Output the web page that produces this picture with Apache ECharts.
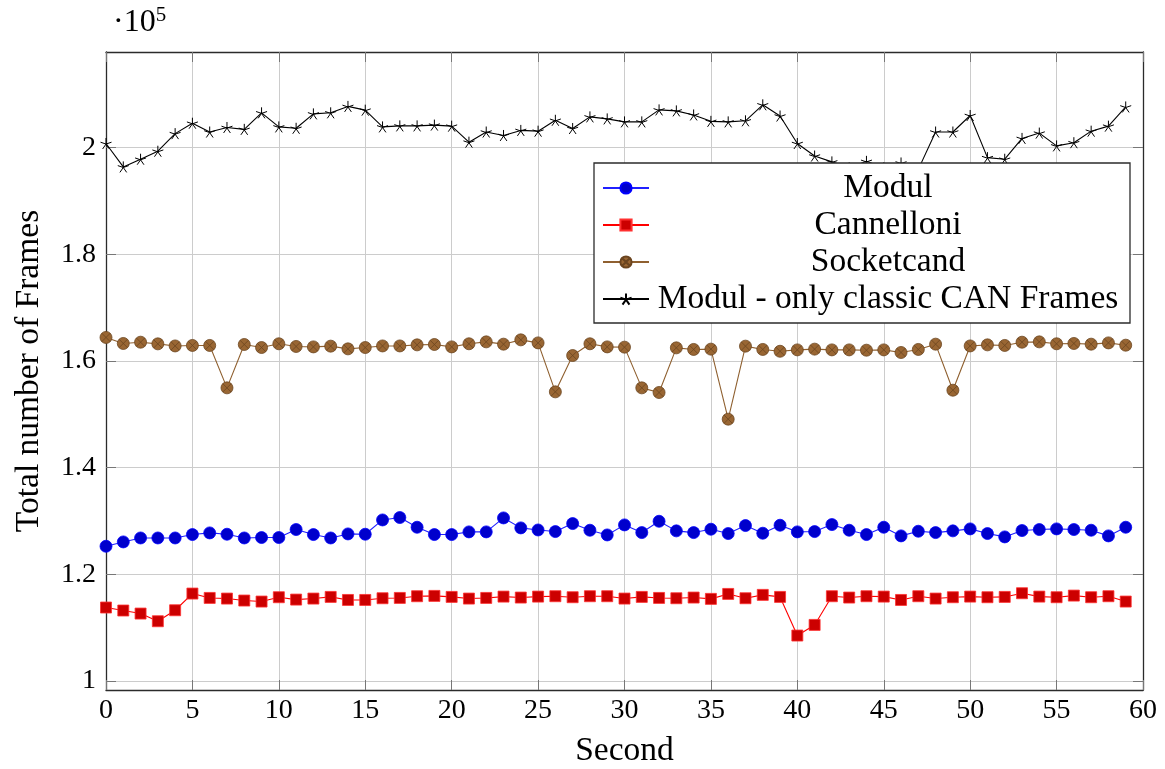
<!DOCTYPE html>
<html>
<head>
<meta charset="utf-8">
<script src="https://cdn.jsdelivr.net/npm/echarts@6/dist/echarts.min.js"></script>
<style>
  html, body { margin: 0; padding: 0; background: #fff; }
  #chart { width: 1165px; height: 769px; }
</style>
</head>
<body>
<div id="chart"></div>
<script>
// Seconds of the measurement
const seconds = [0,1,2,3,4,5,6,7,8,9,10,11,12,13,14,15,16,17,18,19,
  20,21,22,23,24,25,26,27,28,29,30,31,32,33,34,35,36,37,38,39,
  40,41,42,43,44,45,46,47,48,49,50,51,52,53,54,55,56,57,58,59];

// Total number of frames per second
const modul = [125250,126060,126800,126800,126800,127440,127750,127500,126800,126880,
  126880,128380,127440,126800,127560,127500,130180,130630,128810,127440,
  127440,127940,127940,130560,128690,128300,128000,129500,128250,127370,
  129250,127810,129930,128130,127810,128440,127630,129130,127690,129190,
  127940,128000,129310,128250,127440,128810,127190,128060,127810,128130,
  128500,127630,127000,128190,128380,128500,128380,128250,127190,128810];

const cannelloni = [113760,113200,112630,111190,113250,116380,115560,115440,115070,114880,
  115690,115250,115440,115750,115180,115180,115500,115560,115880,115940,
  115750,115440,115560,115810,115630,115810,115880,115690,115880,115880,
  115440,115750,115560,115500,115630,115380,116310,115500,116130,115750,
  108510,110500,115880,115630,115880,115810,115180,115880,115440,115690,
  115810,115690,115750,116440,115810,115690,116000,115690,115880,114880];

const socketcand = [164390,163260,163500,163190,162800,162890,162890,154940,163070,162500,
  163200,162700,162620,162760,162250,162500,162800,162800,163000,163070,
  162620,163200,163560,163130,163940,163370,154190,161000,163200,162620,
  162570,154940,154070,162440,162140,162200,149070,162760,162140,161800,
  162060,162200,162060,162060,162000,162060,161570,162140,163130,154500,
  162800,163000,162890,163500,163560,163200,163260,163130,163370,162940];

const modulClassic = [200750,196360,197800,199300,202600,204550,202900,203750,203400,206500,
  203860,203600,206300,206500,207700,207000,203860,204050,204050,204200,
  204000,201000,202900,202250,203200,203060,205100,203560,205740,205360,
  204800,204800,207050,206860,206100,204900,204800,205000,208000,205900,
  200750,198400,197300,196200,197400,196200,197100,195900,202900,202900,
  206000,198100,197800,201700,202700,200300,200900,203060,204000,207600];

// Axis tick positions
const xTicks = [0,5,10,15,20,25,30,35,40,45,50,55,60];
const yTicks = [100000,120000,140000,160000,180000,200000];
const yTickLabels = ['1','1.2','1.4','1.6','1.8','2'];

const seriesNames = ['Modul','Cannelloni','Socketcand','Modul - only classic CAN Frames'];

const FONT = '"Liberation Serif", "DejaVu Serif", serif';

const pairs = arr => arr.map((v, i) => [seconds[i], v]);

// circle with a cross inside (otimes marker)
const otimesPath = 'path://M1,0A1,1,0,1,1,-1,0A1,1,0,1,1,1,0Z' +
  'M-0.707,-0.707L0.707,0.707M0.707,-0.707L-0.707,0.707';
// five-armed asterisk
const starPath = 'path://M0,-1L0,0M0.951,-0.309L0,0M0.588,0.809L0,0' +
  'M-0.588,0.809L0,0M-0.951,-0.309L0,0';

const chart = echarts.init(document.getElementById('chart'), null, { renderer: 'canvas' });

const axisLineStyle = { color: '#2b2b2b', width: 1.3 };
const tickStyle = { color: '#777', width: 1 };

const option = {
  animation: false,
  backgroundColor: '#fff',
  grid: { left: 106, right: 22, top: 52, bottom: 79, containLabel: false, outerBoundsMode: 'none' },
  xAxis: [{
    type: 'value', min: 0, max: 60, interval: 5, position: 'bottom',
    name: 'Second', nameLocation: 'middle', nameGap: 44,
    nameTextStyle: { fontFamily: FONT, fontSize: 33.5, color: '#000' },
    axisLine: { show: true, onZero: false, lineStyle: axisLineStyle },
    axisTick: { show: true, inside: true, length: 10, lineStyle: tickStyle },
    axisLabel: { fontFamily: FONT, fontSize: 28, color: '#000', margin: 7 },
    splitLine: { show: true, lineStyle: { color: '#cccccc', width: 1 } }
  }, {
    type: 'value', min: 0, max: 60, interval: 5, position: 'top',
    axisLine: { show: true, onZero: false, lineStyle: axisLineStyle },
    axisTick: { show: true, inside: true, length: 10, lineStyle: tickStyle },
    axisLabel: { show: false }, splitLine: { show: false }
  }],
  yAxis: [{
    type: 'value', min: 98300, max: 217900, position: 'left',
    name: 'Total number of Frames', nameLocation: 'middle', nameGap: 60, nameRotate: 90,
    nameTextStyle: { fontFamily: FONT, fontSize: 33.5, color: '#000' },
    axisLine: { show: true, onZero: false, lineStyle: axisLineStyle },
    axisTick: { show: true, inside: true, length: 10, lineStyle: tickStyle, customValues: yTicks },
    axisLabel: {
      fontFamily: FONT, fontSize: 28, color: '#000', margin: 10, customValues: yTicks,
      formatter: v => yTickLabels[yTicks.indexOf(v)] ?? ''
    },
    splitLine: { show: true, lineStyle: { color: '#cccccc', width: 1 } }
  }, {
    type: 'value', min: 98300, max: 217900, position: 'right',
    axisLine: { show: true, onZero: false, lineStyle: axisLineStyle },
    axisTick: { show: true, inside: true, length: 10, lineStyle: tickStyle, customValues: yTicks },
    axisLabel: { show: false, customValues: yTicks }, splitLine: { show: false }
  }],
  legend: {
    orient: 'vertical', left: 594, top: 163,
    padding: [8, 8, 7, 8], itemGap: 3,
    itemWidth: 46, itemHeight: 14,
    backgroundColor: '#fff', borderColor: '#2b2b2b', borderWidth: 1.3, borderRadius: 0,
    data: seriesNames,
    formatter: name => '{t|' + name + '}',
    textStyle: {
      fontFamily: FONT, fontSize: 33.5, color: '#000',
      rich: { t: { width: 468, align: 'center', fontFamily: FONT, fontSize: 33.5, lineHeight: 34, color: '#000' } }
    }
  },
  graphic: [{
    type: 'text', left: 113, top: 5,
    style: {
      text: '{a|·10}{b|5}',
      rich: {
        a: { fontFamily: FONT, fontSize: 32, color: '#000', lineHeight: 35 },
        b: { fontFamily: FONT, fontSize: 21, color: '#000', verticalAlign: 'top', lineHeight: 35 }
      }
    }
  }],
  series: [{
    name: seriesNames[0], type: 'line', data: pairs(modul),
    symbol: 'circle', symbolSize: 12,
    lineStyle: { color: '#2020ff', width: 1.1 },
    itemStyle: { color: '#0000cc', borderColor: '#0000ff', borderWidth: 0.8 }
  }, {
    name: seriesNames[1], type: 'line', data: pairs(cannelloni),
    symbol: 'rect', symbolSize: 11,
    lineStyle: { color: '#ff0000', width: 1.1 },
    itemStyle: { color: '#cc0000', borderColor: '#ff3030', borderWidth: 0.8 }
  }, {
    name: seriesNames[2], type: 'line', data: pairs(socketcand),
    symbol: otimesPath, symbolSize: 12,
    lineStyle: { color: '#8f6030', width: 1.1 },
    itemStyle: { color: '#996633', borderColor: '#6b4520', borderWidth: 0.8 }
  }, {
    name: seriesNames[3], type: 'line', data: pairs(modulClassic),
    symbol: starPath, symbolSize: 11,
    lineStyle: { color: '#000', width: 1.1 },
    itemStyle: { color: 'none', borderColor: '#000', borderWidth: 1 }
  }]
};

chart.setOption(option);
</script>
</body>
</html>
